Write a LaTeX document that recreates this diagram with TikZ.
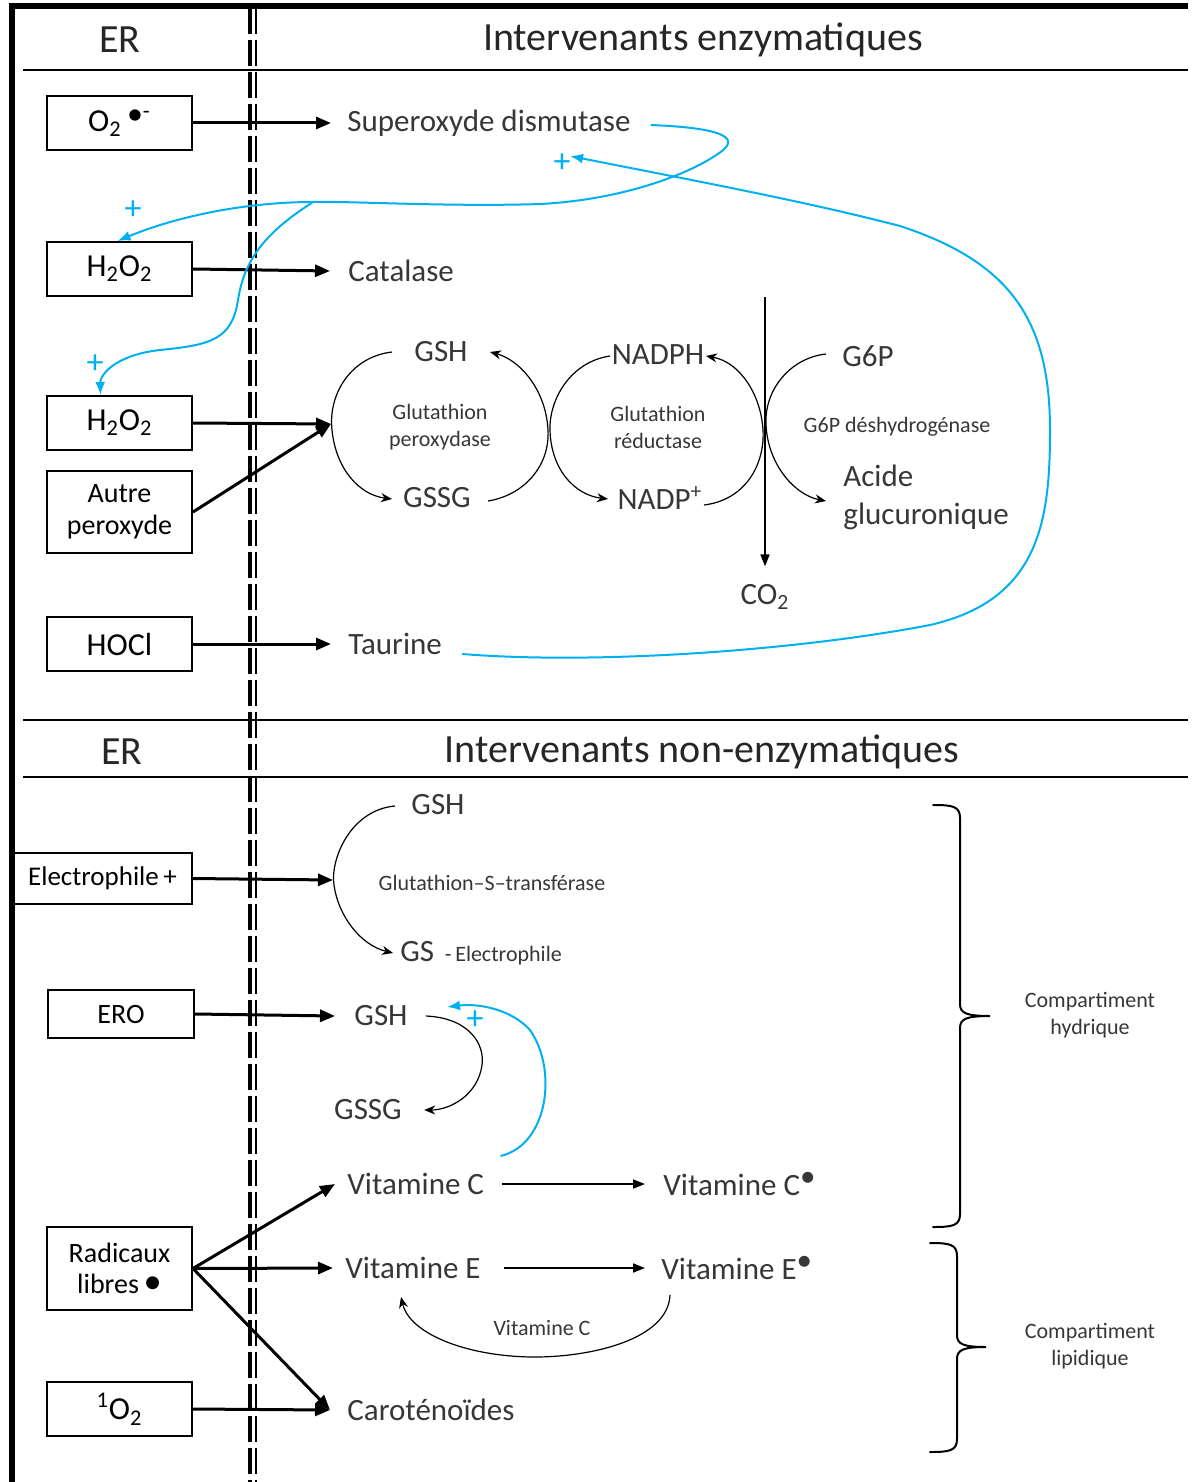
\documentclass[tikz,border=0pt]{standalone}
\usepackage{fontspec}
\setmainfont{Carlito}
\usetikzlibrary{arrows.meta}
\definecolor{cyanline}{RGB}{0,176,240}
\definecolor{labelgray}{RGB}{55,55,55}
\begin{document}
\begin{tikzpicture}[x=0.5pt,y=-0.5pt,
  box/.style={draw, line width=1pt, minimum width=72.5pt, minimum height=27pt,
    inner sep=0pt, align=center, text=black, font=\fontsize{16}{18}\selectfont},
  boxsm/.style={box, font=\fontsize{14}{16}\selectfont},
  head/.style={inner sep=0pt, text=black!85, font=\fontsize{20}{24}\selectfont},
  lbl/.style={inner sep=0pt, text=labelgray, font=\fontsize{15.5}{19}\selectfont},
  small/.style={inner sep=0pt, text=labelgray, align=center, font=\fontsize{11}{13.5}\selectfont},
  bigarrow/.style={line width=1.5pt, -{Triangle[length=7.5pt,width=6pt]}},
  midarrow/.style={line width=0.8pt, -{Triangle[length=6pt,width=4.5pt]}},
  cycarrow/.style={line width=0.6pt, -{Stealth[length=5.5pt,width=4.5pt]}},
  blueline/.style={line width=1pt, cyanline},
  bluearrow/.style={blueline, -{Latex[length=6.5pt,width=5pt]}},
  plus/.style={inner sep=0pt, text=cyanline, font=\fontsize{17}{18}\selectfont},
  membrane/.style={dash pattern=on 13pt off 3pt},
  bracestyle/.style={line width=1pt, line cap=round},
]
\useasboundingbox (0,0) rectangle (1192,1482);

% frame, section rules and membrane
\draw[line width=2.6pt, line join=miter] (12,1482) -- (12,6) -- (1188,6);
\draw[line width=0.9pt] (23,70) -- (1188,70);
\draw[line width=0.9pt] (23,720) -- (1188,720);
\draw[line width=0.9pt] (23,777) -- (1188,777);
\draw[line width=1.6pt, membrane] (250,8) -- (250,1482);
\draw[line width=1.2pt, membrane] (256,8) -- (256,1482);

% headers
\node[head] (er1) at (120,40) {ER};
\node[head] (hdr1) at (703,40) {Intervenants enzymatiques};
\node[head] (er2) at (122,752) {ER};
\node[head] (hdr2) at (702,752) {Intervenants non-enzymatiques};

% reactive species
\node[box] (o2) at (119.5,123) {O\textsubscript{2}\,\raisebox{.45ex}{\textbullet}\textsuperscript{-}};
\node[box] (h2o2a) at (119.5,269) {H\textsubscript{2}O\textsubscript{2}};
\node[box] (h2o2b) at (119.5,423) {H\textsubscript{2}O\textsubscript{2}};
\node[boxsm, minimum height=41pt] (autre) at (119.5,512) {Autre\\peroxyde};
\node[box] (hocl) at (119.5,644) {HOCl};
\node[boxsm, minimum width=89.5pt, minimum height=25.5pt, font=\fontsize{13.5}{16}\selectfont] (elec) at (102.5,878.5) {Electrophile\,+};
\node[boxsm, minimum width=73pt, minimum height=24pt] (ero) at (121,1014) {ERO};
\node[boxsm, minimum height=41.5pt, font=\fontsize{14}{15.5}\selectfont] (rad) at (119.5,1268.5) {Radicaux\\libres\,\scalebox{1.3}{\textbullet}};
\node[box] (singlet) at (119.5,1409) {\textsuperscript{1}O\textsubscript{2}};

% enzymatic defences
\node[lbl, anchor=west] (sod) at (347,123) {Superoxyde dismutase};
\node[lbl, anchor=west] (cat) at (348,271) {Catalase};
\node[lbl, anchor=west] (tau) at (348,644) {Taurine};

\node[lbl] (gsh1) at (441,352) {GSH};
\node[lbl] (gssg1) at (437,498) {GSSG};
\node[small] (gpx) at (440,427) {Glutathion\\peroxydase};
\node[lbl] (nadph) at (658,355) {NADPH};
\node[lbl] (nadp) at (660,498) {NADP\textsuperscript{+}};
\node[small] (gr) at (658,427) {Glutathion\\réductase};
\node[lbl] (g6p) at (868,356) {G6P};
\node[small] (g6pd) at (897,427) {G6P déshydrogénase};
\node[lbl, anchor=west, align=left] (acide) at (843,497) {Acide\\glucuronique};
\node[lbl] (co2) at (765,597) {CO\textsubscript{2}};

% arc end points of the coupled cycles
\coordinate (gpxin) at (331,424);
\coordinate (a1) at (392,352);  \coordinate (a2) at (392,499);
\coordinate (b1) at (488,501);  \coordinate (b2) at (490,352);
\coordinate (c1) at (610,356);  \coordinate (c2) at (608,499);
\coordinate (d1) at (704,505);  \coordinate (d2) at (706,356);
\coordinate (e1) at (826,354);  \coordinate (e2) at (826,501);
\coordinate (ppp) at (765,297);

\draw[cycarrow] (a1) .. controls (350,357) and (328,395) .. (332,430)
  .. controls (336,470) and (360,495) .. (a2);
\draw[cycarrow] (b1) .. controls (525,495) and (550,465) .. (548,430)
  .. controls (546,390) and (520,360) .. (b2);
\draw[cycarrow] (c1) .. controls (570,362) and (549,400) .. (550,430)
  .. controls (551,470) and (575,495) .. (c2);
\draw[cycarrow] (d1) .. controls (745,500) and (765,465) .. (763,430)
  .. controls (761,395) and (740,362) .. (d2);
\draw[cycarrow] (e1) .. controls (790,358) and (764,390) .. (766,425)
  .. controls (768,465) and (795,495) .. (e2);
\draw[midarrow] (ppp) -- ([yshift=9pt]co2.north);

% substrates entering the cell
\draw[bigarrow] (o2.east) -- ([xshift=-8pt]sod.west);
\draw[bigarrow] (h2o2a.east) -- ([xshift=-9pt]cat.west);
\draw[bigarrow] (h2o2b.east) -- (gpxin);
\draw[bigarrow] (autre.east) -- (gpxin);
\draw[bigarrow] (hocl.east) -- ([xshift=-8.5pt]tau.west);

% activation loops
\coordinate (fork) at (313,202);
\draw[blueline] ([xshift=10pt,yshift=-1pt]sod.east) .. controls (700,127) and (745,133) .. (722,151)
  .. controls (690,175) and (620,200) .. (540,204)
  .. controls (450,207) and (350,201) .. (fork);
\draw[bluearrow] (fork) .. controls (250,202) and (180,215) .. ([xshift=-1pt]h2o2a.north);
\draw[bluearrow] (fork) .. controls (270,230) and (245,255) .. (238,300)
  .. controls (232,340) and (210,345) .. (160,350)
  .. controls (115,355) and (100,375) .. ([xshift=-9.5pt]h2o2b.north);
\coordinate (sodback) at (570,156);
\draw[bluearrow] ([xshift=10pt,yshift=-5pt]tau.east) .. controls (600,665) and (800,650) .. (930,625)
  .. controls (1040,600) and (1050,520) .. (1050,430)
  .. controls (1050,320) and (1010,262) .. (900,226)
  .. controls (800,200) and (680,178) .. (sodback);
\node[plus] (p1) at (133,210) {+};
\node[plus] (p2) at (95,364) {+};
\node[plus] (p3) at (562,163) {+};

% non-enzymatic defences
\node[lbl] (gsh2) at (438,805) {GSH};
\node[small] (gst) at (492,883) {Glutathion–S–transférase};
\node[lbl, anchor=west] (gsel) at (400,953) {GS {\fontsize{11}{13}\selectfont\,-\,Electrophile}};
\coordinate (gstin) at (333,880);
\coordinate (f1) at (395,806); \coordinate (f2) at (393,953);
\draw[cycarrow] (f1) .. controls (350,810) and (330,860) .. (334,885)
  .. controls (338,915) and (360,945) .. (f2);
\draw[bigarrow] (elec.east) -- (gstin);

\node[lbl] (gsh3) at (381,1016) {GSH};
\node[lbl] (gssg3) at (368,1110) {GSSG};
\draw[bigarrow] (ero.east) -- ([xshift=-9.5pt]gsh3.west);
\draw[cycarrow] ([xshift=9pt]gsh3.east) .. controls (470,1018) and (485,1045) .. (482,1065)
  .. controls (478,1095) and (450,1110) .. ([xshift=11pt]gssg3.east);

\node[lbl, anchor=west] (vitc) at (347,1184) {Vitamine C};
\node[lbl, anchor=west] (vitcr) at (663,1184) {Vitamine C\raisebox{.55ex}{\textbullet}};
\node[lbl, anchor=west] (vite) at (345,1268) {Vitamine E};
\node[lbl, anchor=west] (viter) at (661,1268) {Vitamine E\raisebox{.55ex}{\textbullet}};
\node[lbl, anchor=west] (caro) at (347,1410) {Caroténoïdes};
\node[small] (vitcsm) at (542,1328) {Vitamine C};

\draw[bluearrow] ([xshift=8pt,yshift=14pt]vitc.east) .. controls (548,1145) and (558,1070) .. (530,1030)
  .. controls (512,1010) and (480,1003) .. (447,1007);
\node[plus] (p4) at (475,1020) {+};

\draw[midarrow] ([xshift=9pt]vitc.east) -- ([xshift=-9pt]vitcr.west);
\draw[midarrow] ([xshift=11.5pt]vite.east) -- ([xshift=-8pt]viter.west);
\coordinate (g1) at (670,1295); \coordinate (g2) at (401,1297);
\draw[cycarrow] (g1) .. controls (668,1340) and (590,1357) .. (535,1357)
  .. controls (470,1357) and (410,1335) .. (g2);

\draw[bigarrow] (rad.east) -- ([xshift=-6pt]vitc.west);
\draw[bigarrow] (rad.east) -- ([xshift=-6pt]vite.west);
\draw[bigarrow] (rad.east) -- ([xshift=-8.5pt]caro.west);
\draw[bigarrow] (singlet.east) -- ([xshift=-8.5pt]caro.west);

% compartments: curly braces grouping the defences
\coordinate (hydtip) at (990,1016);
\coordinate (liptip) at (986,1347);
\draw[bracestyle] (933,805) .. controls (952,805) and (960,806) .. (960,818)
  -- (960,1004) .. controls (960,1013) and (966,1016) .. (hydtip)
  .. controls (966,1016) and (960,1019) .. (960,1028)
  -- (960,1214) .. controls (960,1226) and (952,1227) .. (933,1227);
\draw[bracestyle] (930,1243) .. controls (949,1243) and (957,1244) .. (957,1256)
  -- (957,1335) .. controls (957,1344) and (963,1347) .. (liptip)
  .. controls (963,1347) and (957,1350) .. (957,1359)
  -- (957,1439) .. controls (957,1451) and (949,1452) .. (930,1452);
\node[small] (hyd) at (1090,1015) {Compartiment\\hydrique};
\node[small] (lip) at (1090,1346) {Compartiment\\lipidique};
\end{tikzpicture}
\end{document}
